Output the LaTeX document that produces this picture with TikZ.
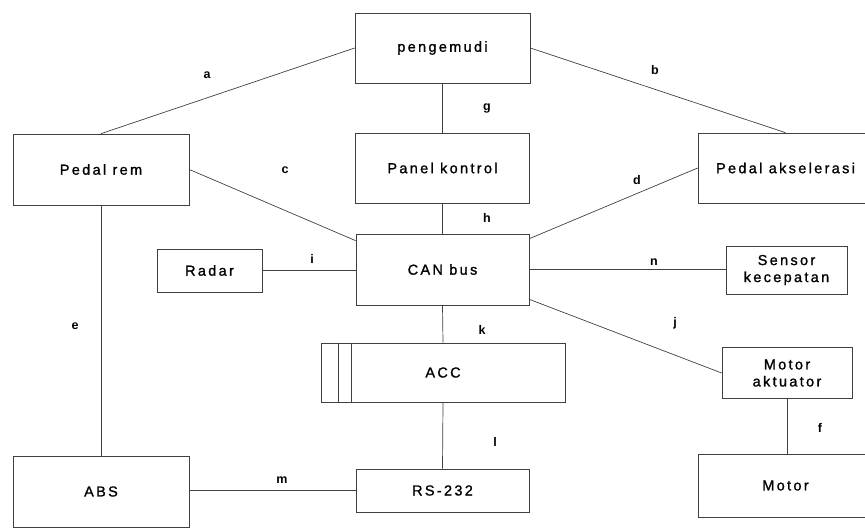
\documentclass[tikz,border=0pt]{standalone}
\usepackage{fontspec}
\setmainfont{Liberation Sans}
\newfontfamily\boxfont{Liberation Sans}[LetterSpace=16,FakeBold=1.2]
\begin{document}
\begin{tikzpicture}[x=1pt,y=-1pt,
  line/.style={draw=black!75, line width=0.7pt},
  blk/.style={line, fill=white, inner sep=0pt, align=center,
    font=\boxfont\fontsize{14.5}{17}\selectfont, text=black},
  lbl/.style={font=\bfseries\fontsize{12.5}{14}\selectfont, inner sep=0pt}]
\useasboundingbox (0,0) rectangle (865,528);
\clip (0,0) rectangle (865,528);
% boxes
\node[blk, minimum width=175pt, minimum height=70pt] (pen) at (442.5,48) {pengemudi};
\node[blk, minimum width=176pt, minimum height=71pt] (prem) at (101,169.5) {Pedal rem};
\node[blk, minimum width=174pt, minimum height=70pt] (panel) at (442.5,168) {Panel kontrol};
\node[blk, minimum width=175pt, minimum height=70pt] (paks) at (785.5,168) {Pedal akselerasi};
\node[blk, minimum width=173pt, minimum height=71pt] (can) at (442.5,269.5) {CAN bus};
\node[blk, minimum width=105pt, minimum height=43pt] (radar) at (209.5,270.5) {Radar};
\node[blk, minimum width=121pt, minimum height=48pt] (sensor) at (786.5,270) {Sensor\\kecepatan};
\node[blk, minimum width=244pt, minimum height=59pt] (acc) at (443,372.5) {ACC};
\node[blk, minimum width=130pt, minimum height=51pt] (mact) at (787,373) {Motor\\aktuator};
\node[blk, minimum width=176pt, minimum height=71pt] (abs) at (101,491.5) {ABS};
\node[blk, minimum width=173pt, minimum height=43pt] (rs) at (442.5,490.5) {RS-232};
\node[blk, minimum width=175pt, minimum height=63pt] (motor) at (785.5,485.5) {Motor};
% ACC inner lines
\draw[line] ([xshift=18pt]acc.north west) -- ([xshift=18pt]acc.south west);
\draw[line] ([xshift=31pt]acc.north west) -- ([xshift=31pt]acc.south west);
% connectors
\draw[line] (pen.west) -- (prem.north);
\draw[line] (pen.east) -- (paks.north);
\draw[line] (pen.south) -- (panel.north);
\draw[line] (prem.east) -- ([yshift=-7pt]can.north west);
\draw[line] (paks.west) -- ([yshift=-5pt]can.north east);
\draw[line] (panel.south) -- (can.north);
\draw[line] (radar.east) -- (radar.east -| can.west);
\draw[line] (can.east) -- (can.east -| sensor.west);
\draw[line] ([yshift=6pt]can.south east) -- (mact.west);
\draw[line] (can.south) -- (acc.north);
\draw[line] (prem.south) -- (abs.north);
\draw[line] (acc.south) -- (rs.north);
\draw[line] (abs.east |- rs.west) -- (rs.west);
\draw[line] (mact.south) -- (mact.south |- motor.north);
% labels
\node[lbl] (la) at (207,75) {a};
\node[lbl] (lb) at (655,70) {b};
\node[lbl] (lc) at (285,170) {c};
\node[lbl] (ld) at (637,180) {d};
\node[lbl] (le) at (75,326) {e};
\node[lbl] (lf) at (820,428) {f};
\node[lbl] (lg) at (487,108) {g};
\node[lbl] (lh) at (487,218) {h};
\node[lbl] (li) at (312,259) {i};
\node[lbl] (lj) at (675,323) {j};
\node[lbl] (lk) at (482,330) {k};
\node[lbl] (ll) at (495,442) {l};
\node[lbl] (lm) at (282,480) {m};
\node[lbl] (ln) at (654,262) {n};
\end{tikzpicture}
\end{document}
